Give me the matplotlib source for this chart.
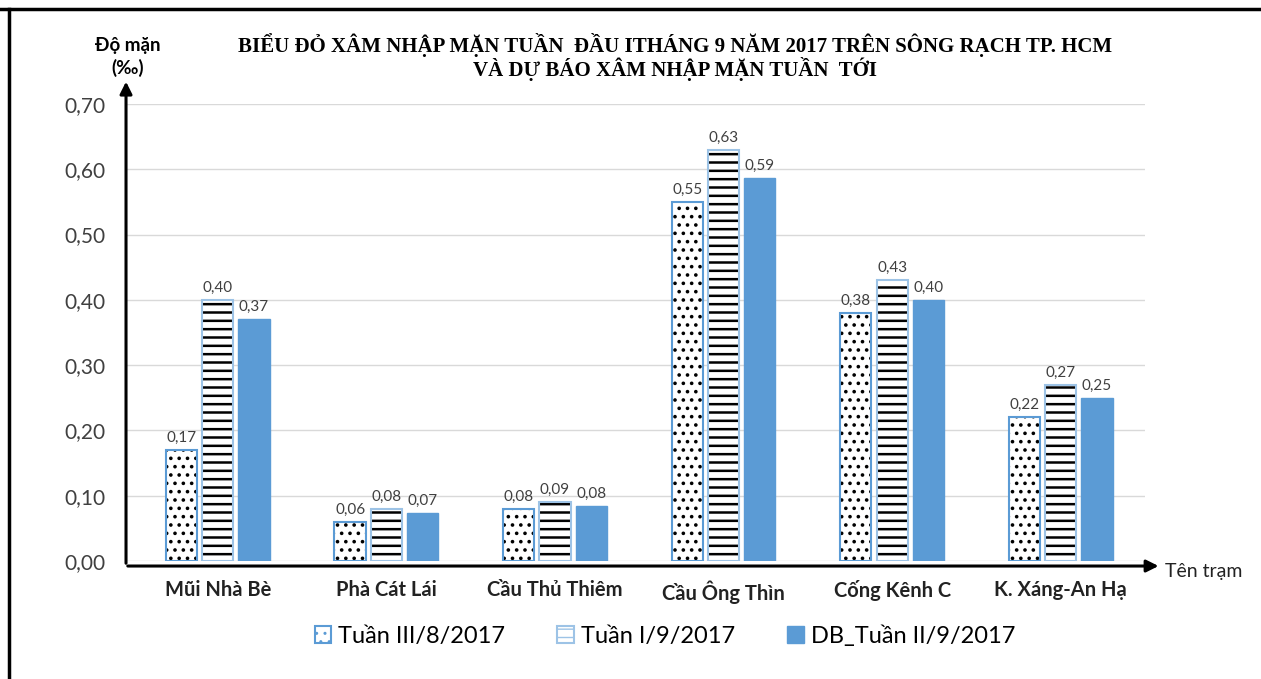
import numpy as np
import matplotlib
matplotlib.use('Agg')
import matplotlib.pyplot as plt
from matplotlib.patches import Patch

stations = ['Mũi Nhà Bè', 'Phà Cát Lái', 'Cầu Thủ Thiêm', 'Cầu Ông Thìn', 'Cống Kênh C', 'K. Xáng-An Hạ']
tuan3_8 = [0.17, 0.06, 0.08, 0.55, 0.38, 0.22]
tuan1_9 = [0.40, 0.08, 0.09, 0.63, 0.43, 0.27]
db_tuan2_9 = [0.37, 0.074, 0.084, 0.586, 0.40, 0.25]
series_names = ['Tuần III/8/2017', 'Tuần I/9/2017', 'DB_Tuần II/9/2017']
yticks = [0.0, 0.1, 0.2, 0.3, 0.4, 0.5, 0.6, 0.7]

blue = '#5B9BD5'
light_blue = '#9DC3E6'
plt.rcParams['font.family'] = ['Lato', 'DejaVu Sans']

fig = plt.figure(figsize=(12.61, 6.79), dpi=100)
ax = fig.add_axes([125/1261, 1-561/679, (1145-125)/1261, (561-104)/679])

x = np.arange(len(stations))
w = 0.185
off = 0.215

# dotted bars
with plt.rc_context({'hatch.linewidth': 1.4}):
    ax.bar(x - off, tuan3_8, w, color='white', edgecolor='black', hatch='..', linewidth=0)
ax.bar(x - off, tuan3_8, w, fill=False, edgecolor=blue, linewidth=1.5)
# line bars
with plt.rc_context({'hatch.linewidth': 1.8}):
    ax.bar(x, tuan1_9, w, color='white', edgecolor='black', hatch='--', linewidth=0)
ax.bar(x, tuan1_9, w, fill=False, edgecolor=light_blue, linewidth=1.5)
# solid bars
ax.bar(x + off, db_tuan2_9, w, color=blue, edgecolor=blue)

for vals, o in [(tuan3_8, -off), (tuan1_9, 0), (db_tuan2_9, off)]:
    for xi, v in zip(x, vals):
        ax.text(xi + o, v + 0.008, f'{v:.2f}'.replace('.', ','), ha='center', va='bottom',
                fontsize=11, color='#404040')

ax.set_xlim(-0.55, 5.5)
ax.set_ylim(0, 0.70)
ax.set_yticks(yticks)
ax.set_yticklabels([f'{t:.2f}'.replace('.', ',') for t in yticks], fontsize=15, color='#404040')
ax.set_xticks(x)
ax.set_xticklabels(stations, fontsize=14.5, fontweight='bold', color='#222222')
ax.tick_params(axis='both', length=0)
ax.tick_params(axis='x', pad=14)
ax.tick_params(axis='y', pad=14)
ax.grid(axis='y', color='#D9D9D9', linewidth=1)
ax.set_axisbelow(True)
for s in ax.spines.values():
    s.set_visible(False)

# axis arrows
ax.annotate('', xy=(1.016, -0.011), xytext=(0, -0.011), xycoords='axes fraction',
            arrowprops=dict(arrowstyle='-|>', color='black', lw=2.2, mutation_scale=18),
            annotation_clip=False)
ax.annotate('', xy=(0.001, 1.055), xytext=(0.001, -0.011), xycoords='axes fraction',
            arrowprops=dict(arrowstyle='-|>', color='black', lw=2.2, mutation_scale=18),
            annotation_clip=False)

fig.text(1165/1261, 1-571/679, 'Tên trạm', fontsize=14, ha='left', va='center', color='#222222')
fig.text(128/1261, 1-57/679, 'Độ mặn\n(‰)', fontsize=13.5, fontweight='bold', ha='center',
         va='center', linespacing=1.3)
fig.text(675/1261, 1-57/679,
         'BIỂU ĐỎ XÂM NHẬP MẶN TUẦN  ĐẦU ITHÁNG 9 NĂM 2017 TRÊN SÔNG RẠCH TP. HCM\n'
         'VÀ DỰ BÁO XÂM NHẬP MẶN TUẦN  TỚI',
         fontsize=15, fontweight='bold', family='Liberation Serif', ha='center', va='center',
         linespacing=1.05)

# legend
handles = [Patch(facecolor='white', edgecolor=blue, hatch='..', linewidth=1.5),
           Patch(facecolor='white', edgecolor=light_blue, hatch='--', linewidth=1.5),
           Patch(facecolor=blue, edgecolor=blue)]
fig.legend(handles, series_names, loc='center', bbox_to_anchor=(665/1261, 1-636/679),
           ncol=3, frameon=False, fontsize=17, handlelength=0.7, handleheight=0.7,
           handletextpad=0.3, columnspacing=2.2)

# frame
fig.add_artist(plt.Line2D([0, 1], [1-9/679, 1-9/679], color='black', lw=2.5))
fig.add_artist(plt.Line2D([9/1261, 9/1261], [0, 1-9/679], color='black', lw=2.5))

fig.savefig('out.png', dpi=100)
